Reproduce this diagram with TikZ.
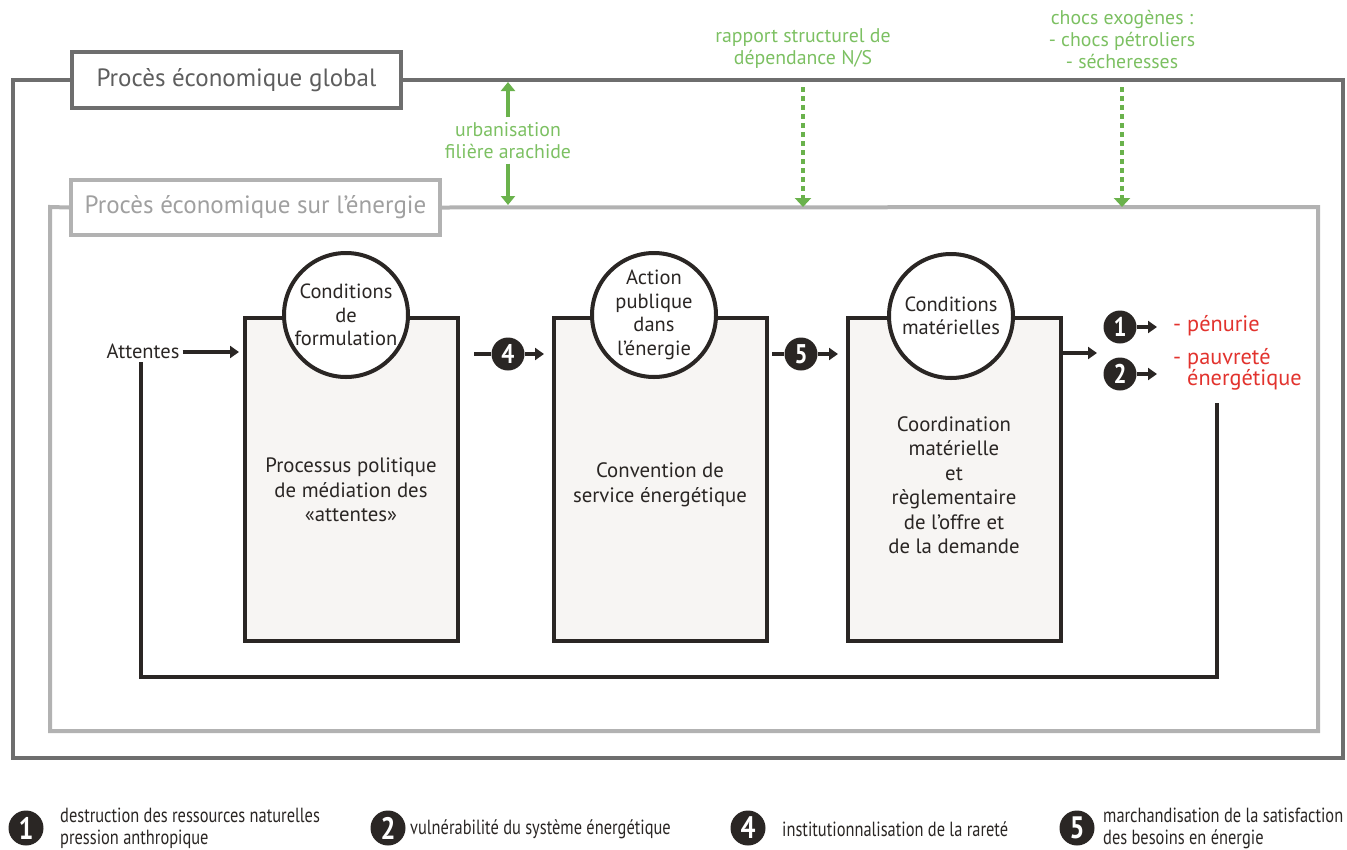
\documentclass[tikz,border=0pt]{standalone}
\usepackage{fontspec}
\setmainfont{PT Sans}
\newfontfamily\narrowfont[FakeStretch=0.80]{PT Sans}
\newfontfamily\narrowbold[FakeStretch=0.85]{PT Sans Bold}
\usetikzlibrary{arrows.meta}
\definecolor{outergray}{HTML}{6E6E6E}
\definecolor{innergray}{HTML}{B2B2B2}
\definecolor{ink}{HTML}{2A2624}
\definecolor{boxfill}{HTML}{F7F5F3}
\definecolor{greenarrow}{HTML}{6AB24C}
\definecolor{greentext}{HTML}{7CC062}
\definecolor{redtext}{HTML}{E2332E}
\tikzset{
  titleglobal/.style={draw=outergray, line width=4pt, fill=white, text=outergray!85!black,
    minimum width=329pt, minimum height=56pt, font=\fontsize{25}{30}\selectfont, inner sep=0pt},
  titleenergy/.style={draw=innergray, line width=4pt, fill=white, text=innergray!90!black,
    minimum width=369pt, minimum height=55pt, font=\fontsize{25}{30}\selectfont, inner sep=0pt},
  outerframe/.style={draw=outergray, line width=4pt},
  innerframe/.style={draw=innergray, line width=4pt},
  procbox/.style={draw=ink, line width=4pt, fill=boxfill, minimum width=213pt, minimum height=323pt, inner sep=0pt},
  condcircle/.style={circle, draw=ink, line width=4pt, fill=white, minimum size=124pt, inner sep=0pt,
    align=center, text=ink, font=\fontsize{20.5}{23.5}\selectfont},
  boxtext/.style={align=center, text=ink, font=\fontsize{20.8}{24.5}\selectfont},
  badge/.style={circle, fill=ink, text=white, minimum size=33pt, inner sep=0pt, font=\narrowbold\fontsize{27}{27}\selectfont},
  legbadge/.style={circle, fill=ink, text=white, minimum size=35pt, inner sep=0pt, font=\narrowbold\fontsize{31}{31}\selectfont},
  legtext/.style={anchor=west, align=left, text=ink, font=\narrowfont\fontsize{20.5}{22}\selectfont, inner sep=0pt},
  flow/.style={draw=ink, line width=4pt, -{Triangle[length=9pt,width=12pt]}},
  loopline/.style={draw=ink, line width=4pt},
  greenlabel/.style={align=center, text=greentext, font=\fontsize{19.8}{22}\selectfont},
  greensolid/.style={draw=greenarrow, line width=4pt, -{Triangle[length=9pt,width=14pt]}},
  greendotted/.style={draw=greenarrow, line width=4pt, dash pattern=on 5pt off 4pt, -{Triangle[length=9pt,width=16pt]}},
  redlabel/.style={anchor=west, align=left, text=redtext, font=\fontsize{22.3}{21}\selectfont, inner sep=0pt},
}
\begin{document}
\begin{tikzpicture}[x=1pt, y=-1pt]
\useasboundingbox (0,0) rectangle (1347,849);

% global economic process frame
\node[titleglobal] (tglobal) at (236.5,80) {Procès économique global};
\draw[outerframe] (tglobal.west) -- (13,80) -- (13,758) -- (1343,758) -- (1343,80) -- (tglobal.east);

% energy economic process frame
\node[titleenergy] (tenergy) at (255.5,207.5) {Procès économique sur l’énergie};
\draw[innerframe] (tenergy.west) -- (50,207) -- (50,731) -- (1318,731) -- (1318,207) -- (tenergy.east);

% exogenous influences (green)
\node[greenlabel] (urb) at (508,141) {urbanisation\\filière arachide};
\draw[greensolid] (urb.north) ++(0,-2) coordinate (urbtop) -- (508,82);
\draw[greensolid] (urb.south) ++(0,1) coordinate (urbbot) -- (508,205);

\node[greenlabel] (dep) at (803,49) {rapport structurel de\\dépendance N/S};
\coordinate (depend) at (803,207);
\draw[greendotted] (803,87) -- (depend);

\node[greenlabel] (chocs) at (1122,39) {chocs exogènes :\\- chocs pétroliers\\- sécheresses};
\coordinate (chocsend) at (1122,207);
\draw[greendotted] (1122,87) -- (chocsend);

% three process boxes
\node[procbox] (b1) at (351.5,479.5) {};
\node[procbox] (b2) at (660.5,479.5) {};
\node[procbox] (b3) at (954.5,479.5) {};

\node[condcircle] (c1) at (346,315) {Conditions\\de\\formulation};
\node[condcircle] (c2) at (654,315) {Action\\publique\\dans\\l’énergie};
\node[condcircle] (c3) at (951,316) {Conditions\\matérielles};

\node[boxtext] (t1) at (351,490) {Processus politique\\de médiation des\\«attentes»};
\node[boxtext] (t2) at (660,485) {Convention de\\service énergétique};
\node[boxtext] (t3) at (954,485) {Coordination\\matérielle\\et\\règlementaire\\de l’offre et\\de la demande};

% input
\node[text=ink, font=\fontsize{20.5}{22}\selectfont, inner sep=0pt] (att) at (143,351) {Attentes};
\draw[flow] ([xshift=3pt]att.east |- 0,352) -- ([xshift=-4pt]b1.west |- 0,352);

% transitions 4 and 5
\node[badge] (n4) at (508,354) {4};
\draw[loopline] ([xshift=14pt]b1.east |- n4) -- (n4);
\draw[flow] (n4) -- ([xshift=-8pt]b2.west |- n4);

\node[badge] (n5) at (801,354) {5};
\draw[loopline] ([xshift=3pt]b2.east |- n5) -- (n5);
\draw[flow] (n5) -- ([xshift=-8pt]b3.west |- n5);

% outputs
\coordinate (outstart) at (1060,353);
\draw[flow] (outstart) -- (1097,353);
\node[badge] (n1) at (1120,327) {1};
\node[badge] (n2) at (1120,374) {2};
\draw[flow] (n1) -- (1157,327);
\draw[flow] (n2) -- (1157,374);
\node[redlabel] (pen) at (1173,326) {- pénurie};
\node[redlabel] (pauv) at (1173,369) {- pauvreté\\\hphantom{- }énergétique};

% feedback loop back to the expectations
\draw[loopline] (1217,403) -- (1217,677) -- (141,677) -- (141,362);

% legend
\node[legbadge] (l1) at (26,828) {1};
\node[legtext] (lt1) at (60,828) {destruction des ressources naturelles\\pression anthropique};
\node[legbadge] (l2) at (388,828) {2};
\node[legtext] (lt2) at (410,829) {vulnérabilité du système énergétique};
\node[legbadge] (l4) at (748,828) {4};
\node[legtext] (lt4) at (782,829) {institutionnalisation de la rareté};
\node[legbadge] (l5) at (1077,828) {5};
\node[legtext] (lt5) at (1103,828) {marchandisation de la satisfaction\\des besoins en énergie};
\end{tikzpicture}
\end{document}
